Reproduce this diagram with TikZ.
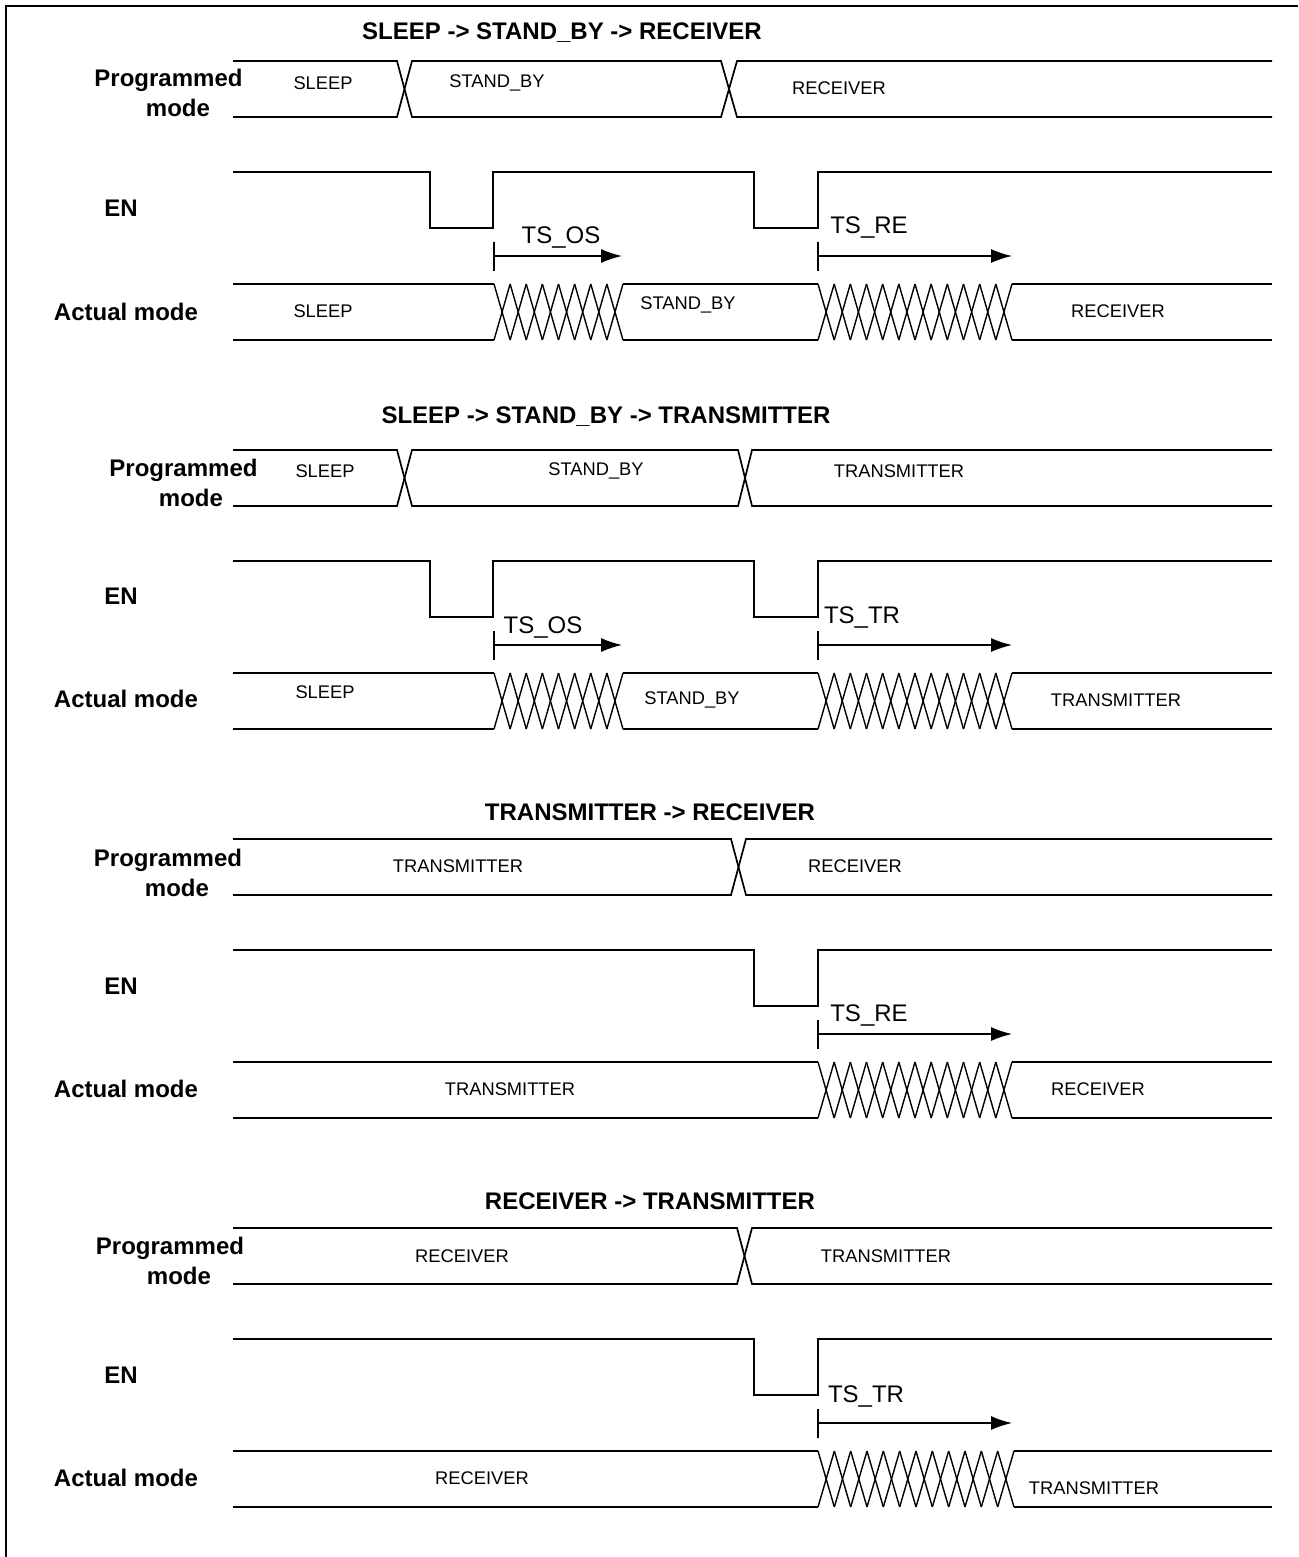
\documentclass[tikz,border=0pt]{standalone}
\usepackage{fontspec}
\setmainfont{Liberation Sans}
\usetikzlibrary{arrows.meta}
\tikzset{
  sig/.style={line width=1.7pt, line join=miter},
  hatchline/.style={line width=1.4pt},
  ttl/.style={font=\fontsize{24}{28}\selectfont\bfseries, inner sep=0pt},
  lbl/.style={font=\fontsize{24}{28}\selectfont\bfseries, inner sep=0pt},
  val/.style={font=\fontsize{18.3}{22}\selectfont, inner sep=0pt},
  tsl/.style={font=\fontsize{24}{28}\selectfont, inner sep=0pt},
  tarrow/.style={line width=1.5pt, -{Latex[length=21pt,width=14pt]}},
  tick/.style={line width=1.5pt},
  frame/.style={line width=2pt}
}
\newcommand{\hatchbus}[5]{%
  \pgfmathsetmacro\hh{(#2-#1)/#3}%
  \foreach \k in {1,...,#3} {%
    \pgfmathsetmacro\xa{#1+(\k-1)*\hh}%
    \pgfmathsetmacro\xb{#1+\k*\hh}%
    \draw[hatchline] (\xa,#4) -- (\xb,#5);
    \draw[hatchline] (\xa,#5) -- (\xb,#4);
  }%
}
\begin{document}
\begin{tikzpicture}[x=1pt,y=-1pt]
\useasboundingbox (0,0) rectangle (1298,1557);
\draw[frame] (6,1557) -- (6,6) -- (1298,6);

%% ---------------- Section 1 ----------------
\begin{scope}[shift={(0,0)}]
\node[ttl] (t1) at (562,33) {SLEEP -> STAND\_BY -> RECEIVER};
\node[lbl] (p1a) at (168.5,80) {Programmed};
\node[lbl] (p1b) at (178,108) {mode};
\node[lbl] (e1) at (121,208) {EN};
\node[lbl] (a1) at (126,312) {Actual mode};
% programmed bus
\draw[sig] (233,61) -- (397,61) -- (412,117) -- (721,117) -- (737,61) -- (1272,61);
\draw[sig] (233,117) -- (397,117) -- (412,61) -- (721,61) -- (737,117) -- (1272,117);
\node[val] (v1a) at (323,83) {SLEEP};
\node[val] (v1b) at (497,83) {STAND\_BY};
\node[val] (v1c) at (839,88) {RECEIVER};
% EN
\draw[sig] (233,172) -- (430,172) -- (430,228) -- (493,228) -- (493,172) -- (754,172) -- (754,228) -- (818,228) -- (818,172) -- (1272,172);
% timing arrows
\coordinate (s1a) at (494,256); \coordinate (f1a) at (622,256);
\coordinate (s1b) at (818,256); \coordinate (f1b) at (1012,256);
\draw[tick] (494,242) -- (494,271);
\draw[tarrow] (s1a) -- (f1a);
\draw[tick] (818,242) -- (818,271);
\draw[tarrow] (s1b) -- (f1b);
\node[tsl] (ts1a) at (561,238) {TS\_OS};
\node[tsl] (ts1b) at (869,228) {TS\_RE};
% actual bus
\draw[sig] (233,284) -- (494,284); \draw[sig] (233,340) -- (494,340);
\hatchbus{494}{623}{8}{284}{340}
\draw[sig] (623,284) -- (818,284); \draw[sig] (623,340) -- (818,340);
\hatchbus{818}{1012}{12}{284}{340}
\draw[sig] (1012,284) -- (1272,284); \draw[sig] (1012,340) -- (1272,340);
\node[val] (w1a) at (323,311) {SLEEP};
\node[val] (w1b) at (688,305) {STAND\_BY};
\node[val] (w1c) at (1118,311) {RECEIVER};
\end{scope}

%% ---------------- Section 2 ----------------
\begin{scope}[shift={(0,389)}]
\node[ttl] (t2) at (606,28) {SLEEP -> STAND\_BY -> TRANSMITTER};
\node[lbl] (p2a) at (183.5,81) {Programmed};
\node[lbl] (p2b) at (191,109) {mode};
\node[lbl] (e2) at (121,207) {EN};
\node[lbl] (a2) at (126,310) {Actual mode};
\draw[sig] (233,61) -- (397,61) -- (412,117) -- (738,117) -- (752,61) -- (1272,61);
\draw[sig] (233,117) -- (397,117) -- (412,61) -- (738,61) -- (752,117) -- (1272,117);
\node[val] (v2a) at (325,82) {SLEEP};
\node[val] (v2b) at (596,82) {STAND\_BY};
\node[val] (v2c) at (899,82) {TRANSMITTER};
\draw[sig] (233,172) -- (430,172) -- (430,228) -- (493,228) -- (493,172) -- (754,172) -- (754,228) -- (818,228) -- (818,172) -- (1272,172);
\coordinate (s2a) at (494,256); \coordinate (f2a) at (622,256);
\coordinate (s2b) at (818,256); \coordinate (f2b) at (1012,256);
\draw[tick] (494,242) -- (494,271);
\draw[tarrow] (s2a) -- (f2a);
\draw[tick] (818,242) -- (818,271);
\draw[tarrow] (s2b) -- (f2b);
\node[tsl] (ts2a) at (543,238) {TS\_OS};
\node[tsl] (ts2b) at (862,228) {TS\_TR};
\draw[sig] (233,284) -- (494,284); \draw[sig] (233,340) -- (494,340);
\hatchbus{494}{623}{8}{284}{340}
\draw[sig] (623,284) -- (818,284); \draw[sig] (623,340) -- (818,340);
\hatchbus{818}{1012}{12}{284}{340}
\draw[sig] (1012,284) -- (1272,284); \draw[sig] (1012,340) -- (1272,340);
\node[val] (w2a) at (325,303) {SLEEP};
\node[val] (w2b) at (692,311) {STAND\_BY};
\node[val] (w2c) at (1116,311) {TRANSMITTER};
\end{scope}

%% ---------------- Section 3 ----------------
\begin{scope}[shift={(0,778)}]
\node[ttl] (t3) at (650,34) {TRANSMITTER -> RECEIVER};
\node[lbl] (p3a) at (168,82) {Programmed};
\node[lbl] (p3b) at (177,110) {mode};
\node[lbl] (e3) at (121,208) {EN};
\node[lbl] (a3) at (126,311) {Actual mode};
\draw[sig] (233,61) -- (731,61) -- (746,117) -- (1272,117);
\draw[sig] (233,117) -- (731,117) -- (746,61) -- (1272,61);
\node[val] (v3a) at (458,88) {TRANSMITTER};
\node[val] (v3b) at (855,88) {RECEIVER};
\draw[sig] (233,172) -- (754,172) -- (754,228) -- (818,228) -- (818,172) -- (1272,172);
\coordinate (s3) at (818,256); \coordinate (f3) at (1012,256);
\draw[tick] (818,242) -- (818,271);
\draw[tarrow] (s3) -- (f3);
\node[tsl] (ts3) at (869,237) {TS\_RE};
\draw[sig] (233,284) -- (818,284); \draw[sig] (233,340) -- (818,340);
\hatchbus{818}{1012}{12}{284}{340}
\draw[sig] (1012,284) -- (1272,284); \draw[sig] (1012,340) -- (1272,340);
\node[val] (w3a) at (510,311) {TRANSMITTER};
\node[val] (w3b) at (1098,311) {RECEIVER};
\end{scope}

%% ---------------- Section 4 ----------------
\begin{scope}[shift={(0,1167)}]
\node[ttl] (t4) at (650,34) {RECEIVER -> TRANSMITTER};
\node[lbl] (p4a) at (170,81) {Programmed};
\node[lbl] (p4b) at (179,109) {mode};
\node[lbl] (e4) at (121,208) {EN};
\node[lbl] (a4) at (126,311) {Actual mode};
\draw[sig] (233,61) -- (737,61) -- (752,117) -- (1272,117);
\draw[sig] (233,117) -- (737,117) -- (752,61) -- (1272,61);
\node[val] (v4a) at (462,89) {RECEIVER};
\node[val] (v4b) at (886,89) {TRANSMITTER};
\draw[sig] (233,172) -- (754,172) -- (754,228) -- (818,228) -- (818,172) -- (1272,172);
\coordinate (s4) at (818,256); \coordinate (f4) at (1012,256);
\draw[tick] (818,242) -- (818,271);
\draw[tarrow] (s4) -- (f4);
\node[tsl] (ts4) at (866,229) {TS\_TR};
\draw[sig] (233,284) -- (818,284); \draw[sig] (233,340) -- (818,340);
\hatchbus{818}{1014}{12}{284}{340}
\draw[sig] (1014,284) -- (1272,284); \draw[sig] (1014,340) -- (1272,340);
\node[val] (w4a) at (482,311) {RECEIVER};
\node[val] (w4b) at (1094,321) {TRANSMITTER};
\end{scope}
\end{tikzpicture}
\end{document}
